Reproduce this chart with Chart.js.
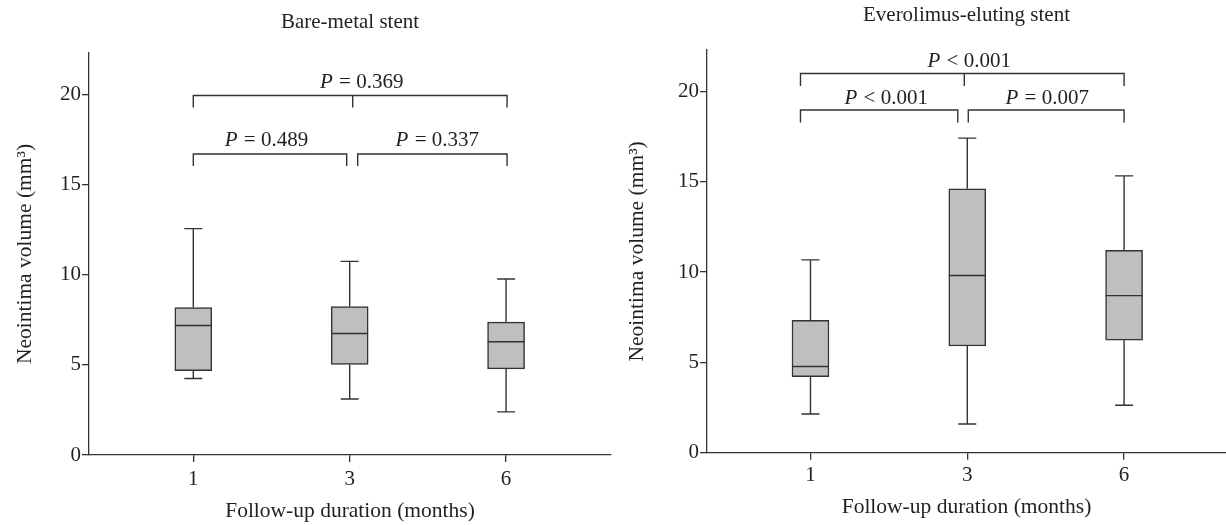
<!DOCTYPE html>
<html><head><meta charset="utf-8">
<script src="https://cdn.jsdelivr.net/npm/chart.js@4.4.1/dist/chart.umd.min.js"></script>
<style>
html,body{margin:0;padding:0;background:#fff;width:1226px;height:525px;overflow:hidden;}
canvas{position:absolute;top:0;}
#c1{left:0;} #c2{left:613px;}
</style></head><body>
<canvas id="c1" width="613" height="525"></canvas>
<canvas id="c2" width="613" height="525"></canvas>
<script>
// ---- data ----
const categories = ['1', '3', '6'];
const yTickValues = [0, 5, 10, 15, 20];
const yAxisMax = 22.3;

const bmsMin    = [4.24, 3.11, 2.39];
const bmsQ1     = [4.68, 5.02, 4.78];
const bmsMedian = [7.18, 6.74, 6.28];
const bmsQ3     = [8.18, 8.24, 7.37];
const bmsMax    = [12.56, 10.74, 9.76];

const eesMin    = [2.14, 1.59, 2.63];
const eesQ1     = [4.21, 5.91, 6.23];
const eesMedian = [4.77, 9.81, 8.70];
const eesQ3     = [7.33, 14.61, 11.21];
const eesMax    = [10.68, 17.42, 15.33];

const bmsComparisons = [
  {from: 0, to: 1, level: 16.7, rel: '=', p: '0.489'},
  {from: 1, to: 2, level: 16.7, rel: '=', p: '0.337'},
  {from: 0, to: 2, level: 19.94, rel: '=', p: '0.369'}
];
const eesComparisons = [
  {from: 0, to: 1, level: 18.98, rel: '<', p: '0.001'},
  {from: 1, to: 2, level: 18.98, rel: '=', p: '0.007'},
  {from: 0, to: 2, level: 21.0, rel: '<', p: '0.001'}
];

// ---- styles ----
const FONT = "'Liberation Serif', 'Times New Roman', serif";
const TXT = '#231f20';
const LINE = '#333333';
const FILL = '#bfbfbf';

const boxPlugin = {
  id: 'boxParts',
  afterDatasetsDraw(chart) {
    const cfg = chart.options.plugins.boxParts;
    const xs = chart.scales.x, ys = chart.scales.y;
    const ctx = chart.ctx;
    ctx.save();
    ctx.strokeStyle = LINE;
    ctx.lineWidth = 1.4;
    const half = cfg.boxWidth / 2, cap = cfg.capWidth / 2;
    cfg.median.forEach((m, i) => {
      const x = xs.getPixelForValue(i);
      const yMin = ys.getPixelForValue(cfg.min[i]);
      const yQ1 = ys.getPixelForValue(cfg.q1[i]);
      const yQ3 = ys.getPixelForValue(cfg.q3[i]);
      const yMax = ys.getPixelForValue(cfg.max[i]);
      const yMed = ys.getPixelForValue(m);
      ctx.beginPath();
      ctx.moveTo(x, yQ3); ctx.lineTo(x, yMax);
      ctx.moveTo(x - cap, yMax); ctx.lineTo(x + cap, yMax);
      ctx.moveTo(x, yQ1); ctx.lineTo(x, yMin);
      ctx.moveTo(x - cap, yMin); ctx.lineTo(x + cap, yMin);
      ctx.moveTo(x - half, yMed); ctx.lineTo(x + half, yMed);
      ctx.stroke();
    });
    // brackets
    const b = cfg.brackets;
    const last = categories.length - 1;
    cfg.comparisons.forEach((c, k) => {
      const y = ys.getPixelForValue(c.level);
      const x1 = xs.getPixelForValue(c.from) + (c.from === 0 ? b.outerStart : b.innerStart);
      const x2 = xs.getPixelForValue(c.to) + (c.to === last ? b.outerEnd : b.innerEnd);
      ctx.beginPath();
      ctx.moveTo(x1, y + b.drop); ctx.lineTo(x1, y); ctx.lineTo(x2, y); ctx.lineTo(x2, y + b.drop);
      if (c.to - c.from > 1) {
        for (let m = c.from + 1; m < c.to; m++) {
          const xm = xs.getPixelForValue(m) + b.mid;
          ctx.moveTo(xm, y); ctx.lineTo(xm, y + b.drop);
        }
      }
      ctx.stroke();
      const fs = b.fontSize;
      const italic = 'italic ' + fs + 'px ' + FONT;
      const normal = fs + 'px ' + FONT;
      const rest = ' ' + c.rel + ' ' + c.p;
      ctx.font = italic; const w1 = ctx.measureText('P').width;
      ctx.font = normal; const w2 = ctx.measureText(rest).width;
      const cx = (x1 + x2) / 2 + b.labelDx[k];
      const left = cx - (w1 + w2) / 2;
      const base = y - b.gap;
      ctx.fillStyle = TXT;
      ctx.textBaseline = 'alphabetic';
      ctx.textAlign = 'left';
      ctx.font = italic; ctx.fillText('P', left, base);
      ctx.font = normal; ctx.fillText(rest, left + w1 + 1, base);
    });
    ctx.restore();
  }
};

function makeChart(id, s, mins, q1s, meds, q3s, maxs, comps) {
  const boxData = categories.map((c, i) => ({x: i, y: [q1s[i], q3s[i]]}));
  return new Chart(document.getElementById(id), {
    type: 'bar',
    data: {
      datasets: [{
        data: boxData,
        backgroundColor: FILL,
        borderColor: LINE,
        borderWidth: 1.5,
        borderSkipped: false,
        barThickness: 37
      }]
    },
    options: {
      responsive: false,
      animation: false,
      devicePixelRatio: 1,
      events: [],
      layout: {padding: {left: 0, right: s.padRight, top: 0, bottom: 0}},
      scales: {
        x: {
          type: 'linear',
          offset: false,
          min: s.xMin, max: s.xMax,
          afterBuildTicks: (sc) => { sc.ticks = categories.map((c, i) => ({value: i})); },
          afterFit: (sc) => { sc.height = s.xHeight; },
          ticks: {
            callback: (v) => categories[v],
            font: {family: FONT, size: 21},
            color: TXT,
            padding: s.xTickPad,
            maxRotation: 0,
            autoSkip: false
          },
          grid: {display: true, offset: false, drawOnChartArea: false, drawTicks: true, tickLength: 7, color: LINE, lineWidth: 1.3},
          border: {display: true, color: LINE, width: 1.3},
          title: {display: true, text: 'Follow-up duration (months)', font: {family: FONT, size: 21.5}, color: TXT, padding: {top: 0, bottom: s.xTitlePad}}
        },
        y: {
          type: 'linear',
          min: 0, max: yAxisMax,
          afterBuildTicks: (sc) => { sc.ticks = yTickValues.map(v => ({value: v})); },
          afterFit: (sc) => { sc.width = s.yWidth; },
          ticks: {font: {family: FONT, size: 21}, color: TXT, padding: 1},
          grid: {display: true, drawOnChartArea: false, drawTicks: true, tickLength: 7, color: LINE, lineWidth: 1.3},
          border: {display: true, color: LINE, width: 1.3},
          title: {display: true, text: 'Neointima volume (mm\u00B3)', font: {family: FONT, size: 21.5}, color: TXT, padding: {top: s.yTitlePad, bottom: 0}}
        }
      },
      plugins: {
        legend: {display: false},
        tooltip: {enabled: false},
        title: {display: true, text: s.title, fullSize: false, font: {family: FONT, size: 21, weight: 'normal'}, color: TXT, padding: s.titlePad},
        boxParts: {min: mins, q1: q1s, median: meds, q3: q3s, max: maxs, comparisons: comps, boxWidth: 37, capWidth: 18, brackets: s.br}
      }
    },
    plugins: [boxPlugin]
  });
}

makeChart('c1', {
  title: 'Bare-metal stent', titlePad: {top: 9.4, bottom: 18.4},
  yWidth: 89, xHeight: 70, xTickPad: 5, xTitlePad: 0.4, yTitlePad: 12.4,
  xMin: -0.667, xMax: 2.671, padRight: 2,
  br: {outerStart: 0, outerEnd: 1, innerEnd: -3, innerStart: 8, mid: 3, drop: 12, gap: 8, fontSize: 21, labelDx: [-4, 4.4, 11]}
}, bmsMin, bmsQ1, bmsMedian, bmsQ3, bmsMax, bmsComparisons);

makeChart('c2', {
  title: 'Everolimus-eluting stent', titlePad: {top: 2.4, bottom: 22.4},
  yWidth: 94, xHeight: 72.3, xTickPad: 3, xTitlePad: 4.4, yTitlePad: 11.4,
  xMin: -0.66, xMax: 2.65, padRight: 0,
  br: {outerStart: -10, outerEnd: 0, innerEnd: -9.5, innerStart: 1, mid: -3, drop: 12.5, gap: 6, fontSize: 21, labelDx: [6.6, 0.5, 6.4]}
}, eesMin, eesQ1, eesMedian, eesQ3, eesMax, eesComparisons);
</script>
</body></html>
